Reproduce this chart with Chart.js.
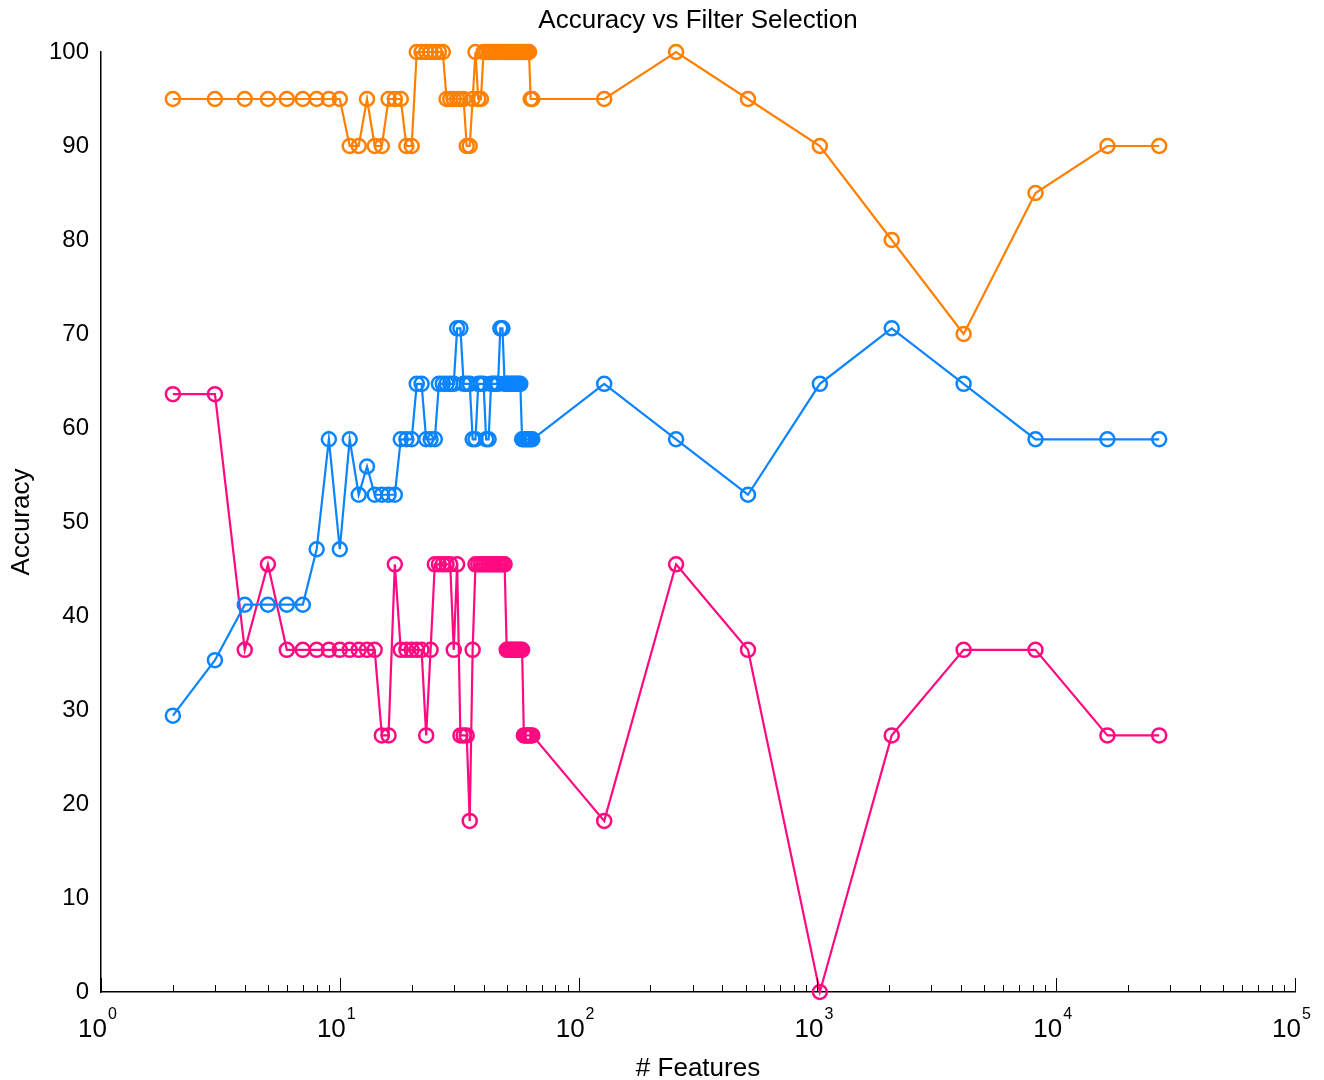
<!DOCTYPE html>
<html>
<head>
<meta charset="utf-8">
<title>Accuracy vs Filter Selection</title>
<script src="https://cdn.jsdelivr.net/npm/chart.js@4.4.1/dist/chart.umd.min.js"></script>
<style>
  html, body { margin: 0; padding: 0; background: #fff; }
  #wrap { width: 1324px; height: 1080px; }
</style>
</head>
<body>
<div id="wrap"><canvas id="accChart" width="1324" height="1080"></canvas></div>
<script>
// number of selected features (x, log scale)
const features = [2, 3, 4, 5, 6, 7, 8, 9, 10, 11, 12, 13, 14, 15, 16, 17, 18, 19, 20,
  21, 22, 23, 24, 25, 26, 27, 28, 29, 30, 31, 32, 33, 34, 35, 36, 37, 38, 39, 40,
  41, 42, 43, 44, 45, 46, 47, 48, 49, 50, 51, 52, 53, 54, 55, 56, 57, 58, 59, 60,
  61, 62, 63, 64, 128, 256, 512, 1024, 2048, 4096, 8192, 16384, 27000];

const orangeAcc = [95, 95, 95, 95, 95, 95, 95, 95, 95, 90, 90, 95, 90, 90, 95, 95, 95, 90, 90,
  100, 100, 100, 100, 100, 100, 100, 95, 95, 95, 95, 95, 95, 90, 90, 95, 100, 95, 95, 100,
  100, 100, 100, 100, 100, 100, 100, 100, 100, 100, 100, 100, 100, 100, 100, 100, 100, 100, 100, 100,
  100, 100, 95, 95, 95, 100, 95, 90, 80, 70, 85, 90, 90];

const blueAcc = [29.4, 35.3, 41.2, 41.2, 41.2, 41.2, 47.1, 58.8, 47.1, 58.8, 52.9, 55.9, 52.9, 52.9, 52.9, 52.9, 58.8, 58.8, 58.8,
  64.7, 64.7, 58.8, 58.8, 58.8, 64.7, 64.7, 64.7, 64.7, 64.7, 70.6, 70.6, 64.7, 64.7, 64.7, 58.8, 58.8, 64.7, 64.7, 64.7,
  58.8, 58.8, 64.7, 64.7, 64.7, 64.7, 70.6, 70.6, 64.7, 64.7, 64.7, 64.7, 64.7, 64.7, 64.7, 64.7, 64.7, 58.8, 58.8, 58.8,
  58.8, 58.8, 58.8, 58.8, 64.7, 58.8, 52.9, 64.7, 70.6, 64.7, 58.8, 58.8, 58.8];

const pinkAcc = [63.6, 63.6, 36.4, 45.5, 36.4, 36.4, 36.4, 36.4, 36.4, 36.4, 36.4, 36.4, 36.4, 27.3, 27.3, 45.5, 36.4, 36.4, 36.4,
  36.4, 36.4, 27.3, 36.4, 45.5, 45.5, 45.5, 45.5, 45.5, 36.4, 45.5, 27.3, 27.3, 27.3, 18.2, 36.4, 45.5, 45.5, 45.5, 45.5,
  45.5, 45.5, 45.5, 45.5, 45.5, 45.5, 45.5, 45.5, 45.5, 36.4, 36.4, 36.4, 36.4, 36.4, 36.4, 36.4, 36.4, 36.4, 27.3, 27.3,
  27.3, 27.3, 27.3, 27.3, 18.2, 45.5, 36.4, 0, 27.3, 36.4, 36.4, 27.3, 27.3];

const xDecades = [0, 1, 2, 3, 4, 5];
const yTicks = [0, 10, 20, 30, 40, 50, 60, 70, 80, 90, 100];

const FONT = "'Liberation Sans', Helvetica, Arial, sans-serif";

function series(values, color) {
  return {
    data: features.map((x, i) => ({ x, y: values[i] })),
    borderColor: color,
    backgroundColor: "rgba(0,0,0,0)",
    borderWidth: 2.2,
    pointRadius: 7,
    pointBorderWidth: 2.5,
    pointBackgroundColor: "rgba(0,0,0,0)",
    pointBorderColor: color,
    tension: 0,
    clip: false,
  };
}

// title, x tick labels with superscripts and inward tick marks
const decorPlugin = {
  id: "decor",
  afterDraw(chart) {
    const { ctx, chartArea } = chart;
    const xs = chart.scales.x;
    ctx.save();
    ctx.fillStyle = "#000";
    ctx.strokeStyle = "#000";
    ctx.lineWidth = 1;

    ctx.font = `26px ${FONT}`;
    ctx.textAlign = "center";
    ctx.textBaseline = "middle";
    ctx.fillText("Accuracy vs Filter Selection", (chartArea.left + chartArea.right) / 2, 21);

    ctx.beginPath();
    xDecades.forEach((d) => {
      const px = Math.round(xs.getPixelForValue(Math.pow(10, d))) + 0.5;
      ctx.moveTo(px, chartArea.bottom);
      ctx.lineTo(px, chartArea.bottom - 14);
      if (d < 5) {
        for (let k = 2; k <= 9; k++) {
          const mx = Math.round(xs.getPixelForValue(k * Math.pow(10, d))) + 0.5;
          ctx.moveTo(mx, chartArea.bottom);
          ctx.lineTo(mx, chartArea.bottom - 7);
        }
      }
    });
    ctx.stroke();

    xDecades.forEach((d) => {
      const px = xs.getPixelForValue(Math.pow(10, d));
      ctx.font = `26px ${FONT}`;
      ctx.textAlign = "right";
      ctx.textBaseline = "alphabetic";
      ctx.fillText("10", px + 6, 1037);
      ctx.font = `16px ${FONT}`;
      ctx.textAlign = "left";
      ctx.fillText(String(d), px + 7, 1019);
    });
    ctx.restore();
  },
};

function boot() {
  const ctx = document.getElementById("accChart").getContext("2d");
  new Chart(ctx, {
    type: "line",
    data: {
      datasets: [
        series(orangeAcc, "#ff8000"),
        series(blueAcc, "#0a84ff"),
        series(pinkAcc, "#ff0a80"),
      ],
    },
    options: {
      responsive: false,
      animation: false,
      layout: { padding: { top: 52, right: 29, bottom: 0, left: 0 } },
      plugins: { legend: { display: false }, title: { display: false }, tooltip: { enabled: false } },
      scales: {
        x: {
          type: "logarithmic",
          min: 1,
          max: 100000,
          grid: { display: false, drawTicks: false },
          border: { display: true, color: "#000", width: 1.5 },
          ticks: { display: false },
          title: { display: true, text: "# Features", color: "#000", font: { family: FONT, size: 26 }, padding: { top: 0, bottom: -4 } },
          afterFit(scale) { scale.height = 88; },
        },
        y: {
          min: 0,
          max: 100,
          afterBuildTicks(scale) { scale.ticks = yTicks.map((v) => ({ value: v })); },
          grid: { display: false, drawTicks: false },
          border: { display: true, color: "#000", width: 1.5 },
          ticks: { color: "#000", padding: 12, font: { family: FONT, size: 24 } },
          title: { display: true, text: "Accuracy", color: "#000", font: { family: FONT, size: 26 }, padding: { top: 6, bottom: 0 } },
          afterFit(scale) { scale.width = 101; },
        },
      },
    },
    plugins: [decorPlugin],
  });
}

document.addEventListener("DOMContentLoaded", boot);
</script>
</body>
</html>
